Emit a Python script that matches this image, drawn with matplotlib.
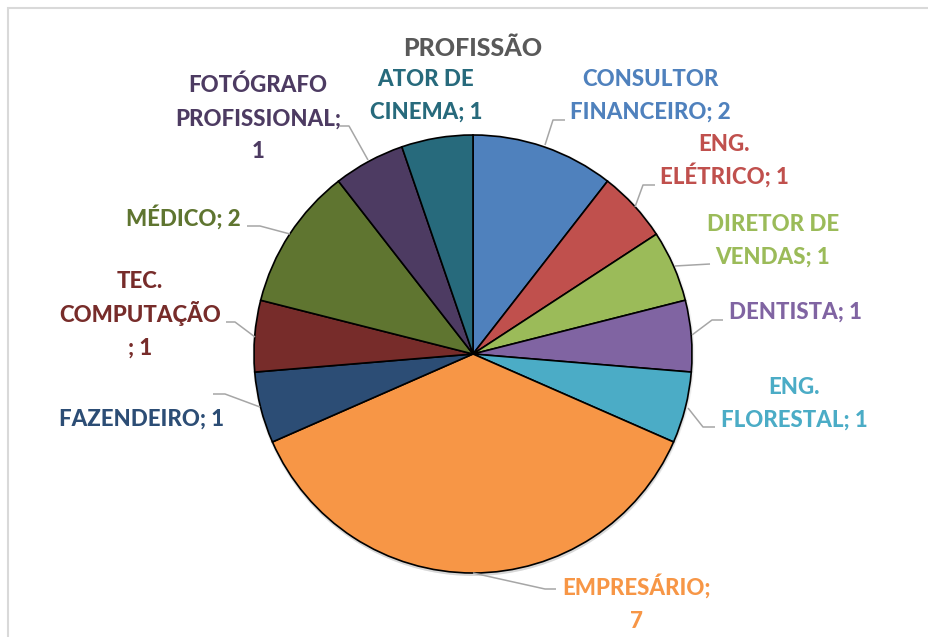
import matplotlib.pyplot as plt
from matplotlib.patches import Rectangle, Circle

# data (clockwise from 12 o'clock)
categories = ["CONSULTOR\nFINANCEIRO", "ENG.\nELÉTRICO", "DIRETOR DE\nVENDAS", "DENTISTA",
              "ENG.\nFLORESTAL", "EMPRESÁRIO", "FAZENDEIRO", "TEC.\nCOMPUTAÇÃO",
              "MÉDICO", "FOTÓGRAFO\nPROFISSIONAL", "ATOR DE\nCINEMA"]
values = [2, 1, 1, 1, 1, 7, 1, 1, 2, 1, 1]
colors = ["#4F81BD", "#C0504D", "#9BBB59", "#8064A2", "#4BACC6", "#F79646",
          "#2C4D75", "#772C2A", "#5F7530", "#4D3B62", "#276A7C"]

# layout (pixel coords, y from top)
W, H = 929, 637
CX, CY, R = 473, 354, 219
seps = ["; ", "; ", "; ", "; ", "; ", ";\n", "; ", "\n; ", "; ", ";\n", "; "]
label_pos = [(650, 95), (724, 160), (773, 240), (796, 311), (794, 403), (637, 604),
             (142, 418), (140, 314), (183, 218), (258, 118), (426, 95)]
LINE_STEP = 33
CAP = 15
leaders = [
    [(545, 145), (553, 120), (565, 120)],
    [(635, 207), (643, 185), (655, 185)],
    [(675, 266), (710, 264)],
    [(692, 335), (712, 320), (723, 320)],
    [(688, 408), (703, 427), (715, 427)],
    [(473, 573), (545, 589), (556, 589)],
    [(260, 407), (225, 394), (213, 394)],
    [(255, 337), (235, 322), (226, 322)],
    [(290, 234), (260, 226), (247, 226)],
    [(368, 160), (349, 126), (340, 126)],
    None,
]

FONT = "Lato"


def Y(y):
    return H - y


fig = plt.figure(figsize=(W / 100, H / 100), dpi=100)
ax = fig.add_axes([0, 0, 1, 1])

# soft shadow under the pie
for i, a in enumerate([0.05, 0.05, 0.06]):
    ax.add_patch(Circle((CX + 0.5, Y(CY) - 1 - i), R + 2 - i, color="black",
                        alpha=a, lw=0, zorder=0))

ax.pie(values, colors=colors, startangle=90, counterclock=False,
       center=(CX, Y(CY)), radius=R, frame=True,
       wedgeprops=dict(edgecolor="black", linewidth=1.2))

for pts in leaders:
    if pts is None:
        continue
    xs = [p[0] for p in pts]
    ys = [Y(p[1]) for p in pts]
    ax.plot(xs, ys, color="#A6A6A6", lw=1.1, zorder=1, solid_capstyle="butt")

# data labels, one text per line so the spacing is even
for cat, v, sep, (x, y), c in zip(categories, values, seps, label_pos, colors):
    lines = f"{cat}{sep}{v}".split("\n")
    n = len(lines)
    for i, line in enumerate(lines):
        yc = y + (i - (n - 1) / 2) * LINE_STEP
        ax.text(x, Y(yc + CAP / 2), line, ha="center", va="baseline", color=c,
                fontsize=16, fontweight=900, family=FONT)

ax.text(473, Y(47 + 8.5), "PROFISSÃO", ha="center", va="baseline", color="#595959",
        fontsize=18, fontweight=900, family=FONT)

# chart frame
ax.add_patch(Rectangle((8, -10), W + 10, Y(8) + 10, fill=False,
                       edgecolor="#D9D9D9", lw=1.5, zorder=0))

ax.set_xlim(0, W)
ax.set_ylim(0, H)
ax.set_aspect("auto")
ax.axis("off")

fig.savefig("out.png", dpi=100)
